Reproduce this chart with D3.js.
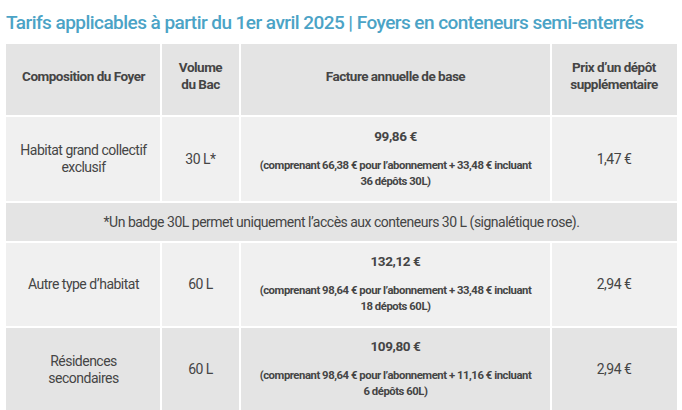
<!DOCTYPE html>
<html><head><meta charset="utf-8">
<script src="https://cdn.jsdelivr.net/npm/d3@7"></script>
<style>body{margin:0;background:#fff}</style>
</head><body>
<div id="tbl"></div>
<script>
var title = "Tarifs applicables à partir du 1er avril 2025 | Foyers en conteneurs semi-enterrés"
var headers = [["Composition du Foyer"], ["Volume", "du Bac"], ["Facture annuelle de base"], ["Prix d’un dépôt", "supplémentaire"]]
var foyers = [["Habitat grand collectif", "exclusif"], ["Autre type d’habitat"], ["Résidences", "secondaires"]]
var volumes = ["30 L*", "60 L", "60 L"]
var factures = ["99,86 €", "132,12 €", "109,80 €"]
var details = [
  ["(comprenant 66,38 € pour l’abonnement + 33,48 € incluant", "36 dépôts 30L)"],
  ["(comprenant 98,64 € pour l’abonnement + 33,48 € incluant", "18 dépots 60L)"],
  ["(comprenant 98,64 € pour l’abonnement + 11,16 € incluant", "6 dépôts 60L)"]
]
var prix = ["1,47 €", "2,94 €", "2,94 €"]
var note = "*Un badge 30L permet uniquement l’accès aux conteneurs 30 L (signalétique rose)."

// layout
var W = 682, H = 410
var colEdges = [6, 161, 240, 551, 677]
var rowEdges = [44, 116, 202, 242, 327, 412]
var rowFill = ["#e4e4e4", "#f0f0f0", "#e4e4e4", "#f0f0f0", "#e4e4e4"]
var txt = "#454545", font = "Roboto, sans-serif"

var svg = d3.select("#tbl").append("svg").attr("width", W).attr("height", H)

svg.append("text").attr("x", 6).attr("y", 29)
  .attr("font-family", font).attr("font-size", 19).attr("font-weight", 500).attr("fill", "#4ba3c6")
  .attr("letter-spacing", -0.55).text(title)

// row backgrounds
svg.selectAll(".rowbg").data(rowFill).join("rect")
  .attr("x", colEdges[0]).attr("width", colEdges[4] - colEdges[0])
  .attr("y", (d, i) => rowEdges[i]).attr("height", (d, i) => rowEdges[i + 1] - rowEdges[i])
  .attr("fill", d => d)

// borders
var g = svg.append("g").attr("stroke", "#fff").attr("stroke-width", 2)
rowEdges.slice(1, 5).forEach(y => g.append("line").attr("x1", colEdges[0]).attr("x2", colEdges[4]).attr("y1", y).attr("y2", y))
colEdges.slice(1, 4).forEach(x => {
  [[0, 2], [3, 5]].forEach(r => g.append("line").attr("x1", x).attr("x2", x).attr("y1", rowEdges[r[0]]).attr("y2", rowEdges[r[1]]))
})

function cx(c) { return (colEdges[c] + colEdges[c + 1]) / 2 }
function cy(r) { return (rowEdges[r] + rowEdges[r + 1]) / 2 }

function lines(x, y, arr, size, weight, lh, ls) {
  var t = svg.append("text").attr("x", x).attr("text-anchor", "middle")
    .attr("font-family", font).attr("font-size", size).attr("font-weight", weight)
    .attr("fill", txt).attr("letter-spacing", ls)
  var y0 = y - (arr.length - 1) * lh / 2
  arr.forEach((s, i) => t.append("tspan").attr("x", x).attr("y", y0 + i * lh).attr("dy", "0.35em").text(s))
}

headers.forEach((h, c) => lines(cx(c), cy(0) - 4, h, 13.5, "bold", 17, -0.5))

var dataRows = [1, 3, 4]
dataRows.forEach((r, i) => {
  var m = cy(r)
  lines(cx(0), m, foyers[i], 14, "normal", 17, -0.5)
  lines(cx(1), m, [volumes[i]], 14, "normal", 17, -0.5)
  lines(cx(2), m - 23, [factures[i]], 13.5, "bold", 17, -0.4)
  lines(cx(2), m + 14, details[i], 11.3, "bold", 16, -0.45)
  lines(cx(3), m, [prix[i]], 14, "normal", 17, -0.5)
})
lines((colEdges[0] + colEdges[4]) / 2, cy(2), [note], 14, "normal", 17, -0.5)
</script>
</body></html>
